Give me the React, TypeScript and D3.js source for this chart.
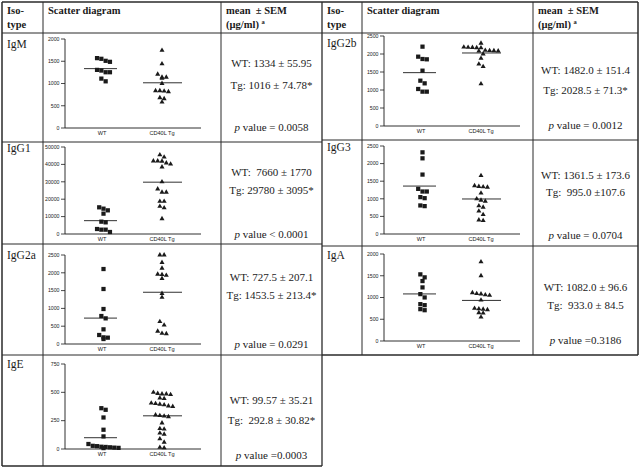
import React from "react";
import * as d3 from "d3";

// ---------- DATA ----------
const isotypes = ["IgM", "IgG1", "IgG2a", "IgE", "IgG2b", "IgG3", "IgA"];
const groupLabels = ["WT", "CD40L Tg"];

const igM_WT = [1555, 1487, 1510, 1570, 1306, 1253, 1253, 1291, 1110, 1049];
const igM_Tg = [1744, 1442, 1140, 1117, 1140, 1208, 1000, 838, 815, 830, 838, 680, 657, 581];
const igG1_WT = [13600, 14560, 15330, 11690, 6700, 7090, 2870, 2490, 2490, 1150];
const igG1_Tg = [45500, 44200, 42000, 41800, 42000, 40800, 40200, 38500, 30000, 25900, 24000, 24000, 18800, 18800, 15900, 15000, 8800];
const igG2a_WT = [2106, 1545, 983, 786, 720, 412, 187, 253, 178, 140];
const igG2a_Tg = [2500, 2500, 2290, 2130, 1950, 1960, 1930, 1840, 1420, 1310, 630, 530, 360, 290, 300];
const igE_WT = [360, 346, 278, 170, 111, 44, 25, 20, 15, 10, 8, 12, 18, 28];
const igE_Tg = [500, 490, 485, 485, 480, 450, 445, 405, 400, 395, 380, 375, 390, 300, 295, 290, 285, 230, 180, 175, 140, 130, 90, 60, 15, 10];
const igG2b_WT = [2204, 1926, 1852, 1861, 1537, 1259, 1185, 1028, 954, 954];
const igG2b_Tg = [2300, 2190, 2185, 2180, 2175, 2170, 2100, 2095, 2090, 2085, 2080, 2000, 1880, 1720, 1650, 1170];
const igG3_WT = [2320, 2150, 1688, 1282, 1207, 1207, 1047, 1018, 811, 792];
const igG3_Tg = [1660, 1370, 1340, 1330, 1350, 1160, 1000, 960, 930, 800, 760, 650, 550, 380, 400];
const igA_WT = [1532, 1463, 1378, 1232, 1078, 1001, 847, 824, 732, 708];
const igA_Tg = [1820, 1500, 1110, 1080, 1050, 1060, 1090, 940, 740, 720, 750, 730, 640, 650, 550];

const wtSeries = [igM_WT, igG1_WT, igG2a_WT, igE_WT, igG2b_WT, igG3_WT, igA_WT];
const tgSeries = [igM_Tg, igG1_Tg, igG2a_Tg, igE_Tg, igG2b_Tg, igG3_Tg, igA_Tg];
const wtMeans = [1334, 7660, 727.5, 99.57, 1482.0, 1361.5, 1082.0];
const tgMeans = [1016, 29780, 1453.5, 292.8, 2028.5, 995.0, 933.0];

const yTicks = [
  [0, 500, 1000, 1500, 2000],
  [0, 10000, 20000, 30000, 40000, 50000],
  [0, 500, 1000, 1500, 2000, 2500],
  [0, 250, 500, 750],
  [0, 500, 1000, 1500, 2000, 2500],
  [0, 500, 1000, 1500, 2000, 2500],
  [0, 500, 1000, 1500, 2000],
];

const PM = "\u00b1";
const wtText = [`WT: 1334 ${PM} 55.95`, `WT:  7660 ${PM} 1770`, `WT: 727.5 ${PM} 207.1`, `WT: 99.57 ${PM} 35.21`, `WT: 1482.0 ${PM} 151.4`, `WT: 1361.5 ${PM} 173.6`, `WT: 1082.0 ${PM} 96.6`];
const tgText = [`Tg: 1016 ${PM} 74.78*`, `Tg: 29780 ${PM} 3095*`, `Tg: 1453.5 ${PM} 213.4*`, `Tg:  292.8 ${PM} 30.82*`, `Tg: 2028.5 ${PM} 71.3*`, `Tg:  995.0 ${PM}107.6`, `Tg:  933.0 ${PM} 84.5`];
const pText = [" value = 0.0058", " value < 0.0001", " value = 0.0291", " value =0.0003", " value = 0.0012", " value = 0.0704", " value =0.3186"];
const headerMean = `mean  ${PM} SEM`;
const headerUnit = "(\u00b5g/ml) ";

// ---------- LAYOUT ----------
const W = 640, H = 469;
const cols = [
  [2, 43, 221, 322],
  [322, 362, 533, 638],
];
const side = [0, 0, 0, 0, 1, 1, 1];
const plotTop = [39, 147, 255, 364, 36, 146, 254];
const plotBot = [128, 234, 344, 449, 126, 234, 341];
const labelY = [48, 152, 259, 368, 47, 151, 259];
const wtY = [67, 176, 281, 404, 74, 179, 291];
const tgY = [89, 194, 299, 424, 94, 196, 309];
const pY = [131, 238, 348, 459, 129, 239, 344];

const serif = "'Liberation Serif', 'Times New Roman', serif";
const sans = "'Liberation Sans', Arial, sans-serif";
const ink = "#1a1a1a";

function swarm(vals: number[], y: d3.ScaleLinear<number, number>, cx: number) {
  const pts = vals.map((v) => ({ v, py: y(v) })).sort((a, b) => a.py - b.py);
  const rows: { v: number; py: number }[][] = [];
  for (const p of pts) {
    const last = rows[rows.length - 1];
    if (last && p.py - last[0].py < 3.9) last.push(p);
    else rows.push([p]);
  }
  const out: { x: number; y: number }[] = [];
  const step = 4.3;
  rows.forEach((r) => {
    r.forEach((p, i) => out.push({ x: cx + (i - (r.length - 1) / 2) * step, y: p.py }));
  });
  return out;
}

const sq = d3.symbol().type(d3.symbolSquare).size(18)()!;
const tri = d3.symbol().type(d3.symbolTriangle).size(11)()!;

function Panel({ i }: { i: number }) {
  const c = cols[side[i]];
  const ax = c[1] + 22;
  const axEnd = ax + 136;
  const maxV = yTicks[i][yTicks[i].length - 1];
  const y = d3.scaleLinear().domain([0, maxV]).range([plotBot[i], plotTop[i]]);
  const x = d3.scalePoint<string>().domain(groupLabels).range([ax + 37, ax + 97]);
  const cw = x("WT")!, ct = x("CD40L Tg")!;
  const fmt = d3.format("d");
  const wt = swarm(wtSeries[i], y, cw + 1.5);
  const tg = swarm(tgSeries[i], y, ct);
  const statX = (c[2] + c[3]) / 2;
  return (
    <g>
      <text x={c[0] + 5} y={labelY[i]} fontFamily={serif} fontSize={11.5} fill={ink}>{isotypes[i]}</text>
      <line x1={ax} x2={ax} y1={y(maxV)} y2={y(0)} stroke={ink} strokeWidth={0.9} />
      <line x1={ax} x2={axEnd} y1={y(0)} y2={y(0)} stroke={ink} strokeWidth={0.9} />
      {yTicks[i].map((t) => (
        <g key={t}>
          <line x1={ax - 4} x2={ax} y1={y(t)} y2={y(t)} stroke={ink} strokeWidth={0.8} />
          <text x={ax - 5.5} y={y(t) + 1.8} textAnchor="end" fontFamily={sans} fontSize={5.2} fill={ink}>{fmt(t)}</text>
        </g>
      ))}
      {groupLabels.map((g) => (
        <text key={g} x={x(g)} y={y(0) + 6.5} textAnchor="middle" fontFamily={sans} fontSize={5.6} fill={ink}>{g}</text>
      ))}
      {wt.map((p, k) => (
        <path key={"w" + k} d={sq} transform={`translate(${p.x},${p.y})`} fill={ink} />
      ))}
      {tg.map((p, k) => (
        <path key={"t" + k} d={tri} transform={`translate(${p.x},${p.y})`} fill={ink} />
      ))}
      <line x1={cw - 18} x2={cw + 15} y1={y(wtMeans[i])} y2={y(wtMeans[i])} stroke={ink} strokeWidth={0.9} />
      <line x1={ct - 19} x2={ct + 20} y1={y(tgMeans[i])} y2={y(tgMeans[i])} stroke={ink} strokeWidth={0.9} />
      <text x={statX} y={wtY[i]} textAnchor="middle" fontFamily={serif} fontSize={11} fill={ink} style={{ whiteSpace: "pre" }}>{wtText[i]}</text>
      <text x={statX} y={tgY[i]} textAnchor="middle" fontFamily={serif} fontSize={11} fill={ink} style={{ whiteSpace: "pre" }}>{tgText[i]}</text>
      <text x={statX} y={pY[i]} textAnchor="middle" fontFamily={serif} fontSize={11} fill={ink} style={{ whiteSpace: "pre" }}>
        <tspan fontStyle="italic">p</tspan>{pText[i]}
      </text>
    </g>
  );
}

function Header({ s }: { s: number }) {
  const c = cols[s];
  return (
    <g fontFamily={serif} fontWeight="bold" fontSize={10.5} fill={ink}>
      <text x={c[0] + 5} y={14}>Iso-</text>
      <text x={c[0] + 5} y={28}>type</text>
      <text x={c[1] + 5} y={14}>Scatter diagram</text>
      <text x={c[2] + 5} y={14} style={{ whiteSpace: "pre" }}>{headerMean}</text>
      <text x={c[2] + 5} y={28} style={{ whiteSpace: "pre" }}>{headerUnit}<tspan fontSize={6.5} dy={-4}>a</tspan></text>
    </g>
  );
}

export default function App() {
  const lc = "#2a2a2a";
  return (
    <svg width={W} height={H} style={{ position: "absolute", left: 0, top: 0, background: "#fff" }}>
      <rect width={W} height={H} fill="#fff" />
      <Header s={0} />
      <Header s={1} />
      {isotypes.map((_, i) => <Panel key={i} i={i} />)}
      <g stroke={lc} strokeWidth={1} fill="none">
        <line x1={2} x2={638} y1={33} y2={33} />
        {[142, 244, 355].map((v) => <line key={"l" + v} x1={2} x2={322} y1={v} y2={v} />)}
        {[140, 246].map((v) => <line key={"r" + v} x1={322} x2={638} y1={v} y2={v} />)}
        <line x1={322} x2={638} y1={355} y2={355} strokeWidth={1.5} />
        {[43, 221].map((v) => <line key={"v" + v} x1={v} x2={v} y1={2} y2={466} />)}
        {[362, 533].map((v) => <line key={"w" + v} x1={v} x2={v} y1={2} y2={355} />)}
        <line x1={322} x2={322} y1={2} y2={466} strokeWidth={1.3} />
        <line x1={2} x2={638} y1={2} y2={2} strokeWidth={1.5} />
        <line x1={2} x2={2} y1={2} y2={466} strokeWidth={1.5} />
        <line x1={638} x2={638} y1={2} y2={355} strokeWidth={1.5} />
        <line x1={2} x2={322} y1={466} y2={466} strokeWidth={1.5} />
      </g>
    </svg>
  );
}
